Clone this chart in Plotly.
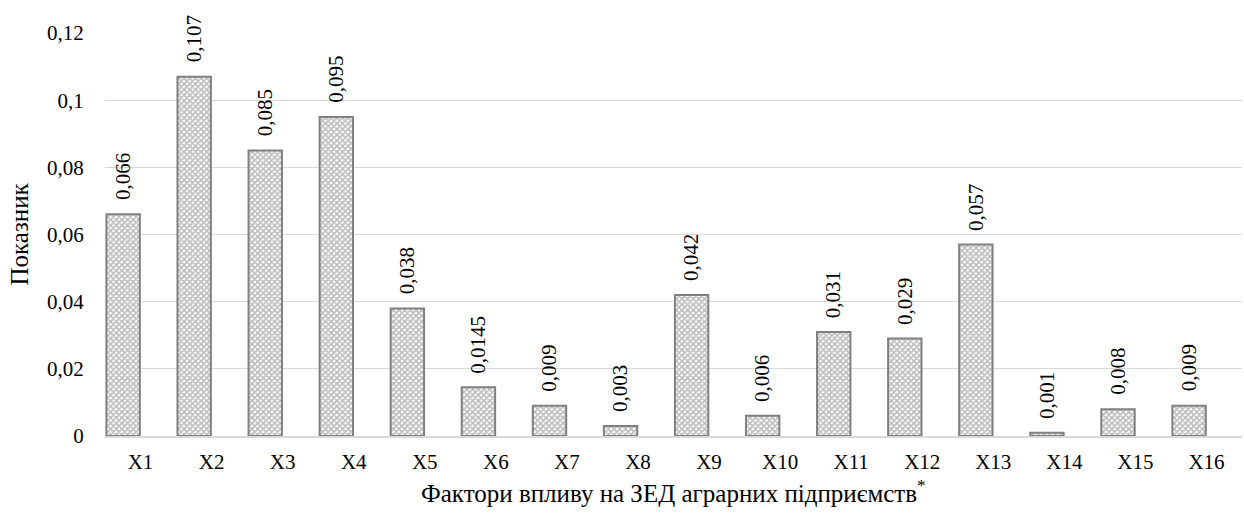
import plotly.graph_objects as go

# Factor impact indicators
factors = ["X1", "X2", "X3", "X4", "X5", "X6", "X7", "X8",
           "X9", "X10", "X11", "X12", "X13", "X14", "X15", "X16"]
values = [0.066, 0.107, 0.085, 0.095, 0.038, 0.0145, 0.009, 0.003,
          0.042, 0.006, 0.031, 0.029, 0.057, 0.001, 0.008, 0.009]
value_labels = ["0,066", "0,107", "0,085", "0,095", "0,038", "0,0145", "0,009", "0,003",
                "0,042", "0,006", "0,031", "0,029", "0,057", "0,001", "0,008", "0,009"]
y_ticks = [0, 0.02, 0.04, 0.06, 0.08, 0.1, 0.12]
y_tick_labels = ["0", "0,02", "0,04", "0,06", "0,08", "0,1", "0,12"]

FONT = "Liberation Serif"
positions = list(range(len(factors)))
bar_width = 0.47
bar_offset = -0.48

fig = go.Figure()
fig.add_trace(go.Bar(
    x=positions,
    y=values,
    width=bar_width,
    offset=bar_offset,
    marker=dict(
        color="white",
        line=dict(color="#808080", width=2),
        pattern=dict(shape="x", fgcolor="#7a7a7a", bgcolor="white",
                     size=4, solidity=0.65, fillmode="overlay"),
    ),
    hoverinfo="skip",
))

# Rotated value labels above each bar
for p, v, t in zip(positions, values, value_labels):
    fig.add_annotation(
        x=p + bar_offset + bar_width / 2, y=v, xref="x", yref="y",
        text=t, textangle=-90, showarrow=False,
        xanchor="center", yanchor="bottom", yshift=12,
        font=dict(family=FONT, size=21, color="black"),
    )

# Axis titles
fig.add_annotation(
    x=0, y=0.5, xref="paper", yref="paper", xshift=-86,
    text="Показник", textangle=-90, showarrow=False,
    xanchor="center", yanchor="middle",
    font=dict(family=FONT, size=25, color="black"),
)
fig.add_annotation(
    x=0.5, y=0, xref="paper", yref="paper", yshift=-55,
    text="Фактори впливу на ЗЕД аграрних підприємств<sup>*</sup>",
    showarrow=False, xanchor="center", yanchor="middle",
    font=dict(family=FONT, size=25, color="black"),
)

fig.update_layout(
    width=1244, height=516,
    margin=dict(l=105, r=2, t=33, b=80),
    plot_bgcolor="white", paper_bgcolor="white",
    showlegend=False,
    font=dict(family=FONT, size=21, color="black"),
    xaxis=dict(
        tickmode="array", tickvals=positions, ticktext=factors,
        range=[-0.5, len(factors) - 0.5],
        showgrid=False, showline=True, linecolor="#d9d9d9", linewidth=1.5,
        ticks="outside", ticklen=6, tickcolor="rgba(0,0,0,0)",
        tickfont=dict(family=FONT, size=21, color="black"),
        zeroline=False,
    ),
    yaxis=dict(
        range=[0, 0.12], tickmode="array", tickvals=y_ticks, ticktext=y_tick_labels,
        showgrid=True, gridcolor="#d9d9d9", gridwidth=1,
        showline=False, zeroline=False,
        ticks="outside", ticklen=16, tickcolor="rgba(0,0,0,0)",
        tickfont=dict(family=FONT, size=21, color="black"),
    ),
)

fig.write_html("out.html")
